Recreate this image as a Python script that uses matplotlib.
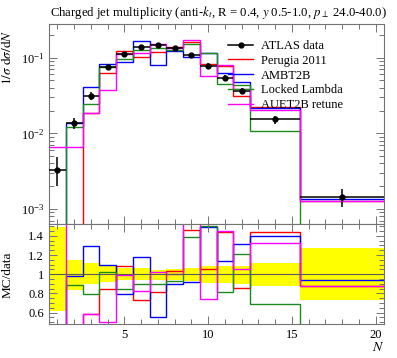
import numpy as np
import matplotlib
matplotlib.use("Agg")
import matplotlib.pyplot as plt
from matplotlib.lines import Line2D
from matplotlib.ticker import MultipleLocator, LogLocator, NullFormatter, FixedLocator

plt.rcParams['font.family'] = ['Liberation Serif', 'DejaVu Serif']
plt.rcParams['mathtext.fontset'] = 'stix'

# ---- data ----
edges = [0.5, 1.5, 2.5, 3.5, 4.5, 5.5, 6.5, 7.5, 8.5, 9.5, 10.5, 11.5, 12.5, 15.5, 20.5]
centers = [1, 2, 3, 4, 5, 6, 7, 8, 9, 10, 11, 12, 14, 18]
data = [3.27e-3, 0.0138, 0.0311, 0.0747, 0.112, 0.140, 0.147, 0.135, 0.110, 0.078, 0.0544, 0.0363, 0.0153, 1.45e-3]
rel_err_up = [0.49, 0.146, 0.117, 0.094, 0.066, 0.066, 0.04, 0.05, 0.06, 0.083, 0.09, 0.09, 0.118, 0.275]
rel_err_dn = [0.38, 0.167, 0.10, 0.08, 0.063, 0.063, 0.056, 0.063, 0.07, 0.09, 0.09, 0.10, 0.122, 0.27]

perugia = [1e-5, 1e-5, 0.01835, 0.0635, 0.1221, 0.1022, 0.1198, 0.1397, 0.1606, 0.0819, 0.0781, 0.0311, 0.0220, 1.276e-3]
ambt2b = [1e-5, 0.01352, 0.0404, 0.0822, 0.0885, 0.1652, 0.0809, 0.1215, 0.1012, 0.1162, 0.0620, 0.0476, 0.0214, 1.359e-3]
locked = [1e-5, 0.01228, 0.0246, 0.0762, 0.0952, 0.126, 0.1323, 0.1256, 0.1529, 0.117, 0.0443, 0.0441, 0.01062, 1e-5]
auet2b = [6.5e-3, 6.5e-3, 0.01835, 0.0374, 0.111, 0.116, 0.150, 0.135, 0.1705, 0.0577, 0.0789, 0.0381, 0.0202, 1.27e-3]

series = [("Perugia 2011", perugia, "#ff0000"),
          ("AMBT2B", ambt2b, "#0000ff"),
          ("Locked Lambda", locked, "#1a8a1a"),
          ("AUET2B retune", auet2b, "#ff00ff")]

title = r"Charged jet multiplicity (anti-$k_t$, R = 0.4, $y$ 0.5-1.0, $p_\perp$ 24.0-40.0)"

# ---- figure ----
W, H = 397, 358
fig = plt.figure(figsize=(W/100, H/100), dpi=100)
L, R = 49/W, 384/W
ax1 = fig.add_axes([L, 1-224.3/H, R-L, (224.3-24)/H])
ax2 = fig.add_axes([L, 1-324.3/H, R-L, (324.3-224.3)/H], sharex=ax1)

edges_a = np.array(edges)
data_a = np.array(data)
err_lo = data_a*np.array(rel_err_dn)
err_hi = data_a*np.array(rel_err_up)
xerr_lo = np.array(centers) - edges_a[:-1]
xerr_hi = edges_a[1:] - np.array(centers)

# main panel
ax1.set_yscale('log')
handles, labels = [], []
for name, vals, col in series:
    ax1.stairs(vals, edges, baseline=None, color=col, lw=1.0)
    handles.append(Line2D([], [], color=col, lw=1.0))
    labels.append(name)
ax1.errorbar(centers, data, yerr=[err_lo, err_hi], xerr=[xerr_lo, xerr_hi],
             fmt='o', color='black', ms=3.5, elinewidth=1.1, capsize=0, zorder=5)
handles.insert(0, Line2D([], [], color='black', lw=1.1, marker='o', ms=3.5))
labels.insert(0, 'ATLAS data')
ax1.set_xlim(0.5, 20.5)
ax1.set_ylim(6.28e-4, 0.2786)

ax1.legend(handles, labels, loc='upper left',
           bbox_to_anchor=(0.535, 0.92), frameon=False, fontsize=9,
           handlelength=2.0, handletextpad=0.65, labelspacing=0.22,
           borderaxespad=0, borderpad=0)

# ratio panel
ratio_up = 1 + np.array(rel_err_up)
ratio_dn = 1 - np.array(rel_err_dn)
ax2.stairs(ratio_up, edges, baseline=ratio_dn, fill=True, color='#ffff00', lw=0)
ax2.axhline(1.0, color='0.35', lw=0.8)
for name, vals, col in series:
    ax2.stairs(np.array(vals)/data_a, edges, baseline=None, color=col, lw=1.0)
ax2.set_ylim(0.478, 1.52)

# ticks & style
gray = '0.45'
for ax in (ax1, ax2):
    for s in ax.spines.values():
        s.set_color(gray)
        s.set_linewidth(0.8)
    ax.tick_params(which='both', direction='in', top=True, right=True,
                   color=gray, labelsize=9, width=0.7)
    ax.tick_params(which='major', length=6)
    ax.tick_params(which='minor', length=3.5)
    ax.xaxis.set_major_locator(FixedLocator([5, 10, 15, 20]))
    ax.xaxis.set_minor_locator(MultipleLocator(1))

ax1.yaxis.set_major_locator(LogLocator(base=10, numticks=10))
ax1.yaxis.set_minor_locator(LogLocator(base=10, subs=np.arange(2, 10), numticks=20))
ax1.yaxis.set_minor_formatter(NullFormatter())
plt.setp(ax1.get_xticklabels(), visible=False)

ax2.yaxis.set_major_locator(FixedLocator([0.6, 0.8, 1.0, 1.2, 1.4]))
ax2.yaxis.set_minor_locator(MultipleLocator(0.05))
ax2.set_yticklabels(['0.6', '0.8', '1', '1.2', '1.4'])

ax1.set_ylabel(r'$1/\sigma\ \mathrm{d}\sigma/\mathrm{d}N$', loc='top', fontsize=9.5)
ax1.yaxis.set_label_coords(-0.105, 0.97)
ax2.set_ylabel('MC/data', fontsize=9.5)
ax2.yaxis.set_label_coords(-0.105, 0.5)
ax2.set_xlabel(r'$N$', loc='right', fontsize=10, labelpad=0)

fig.text(50/W, 1-16/H, title, ha='left', va='baseline', fontsize=9.2)

fig.savefig('out.png', dpi=100)
